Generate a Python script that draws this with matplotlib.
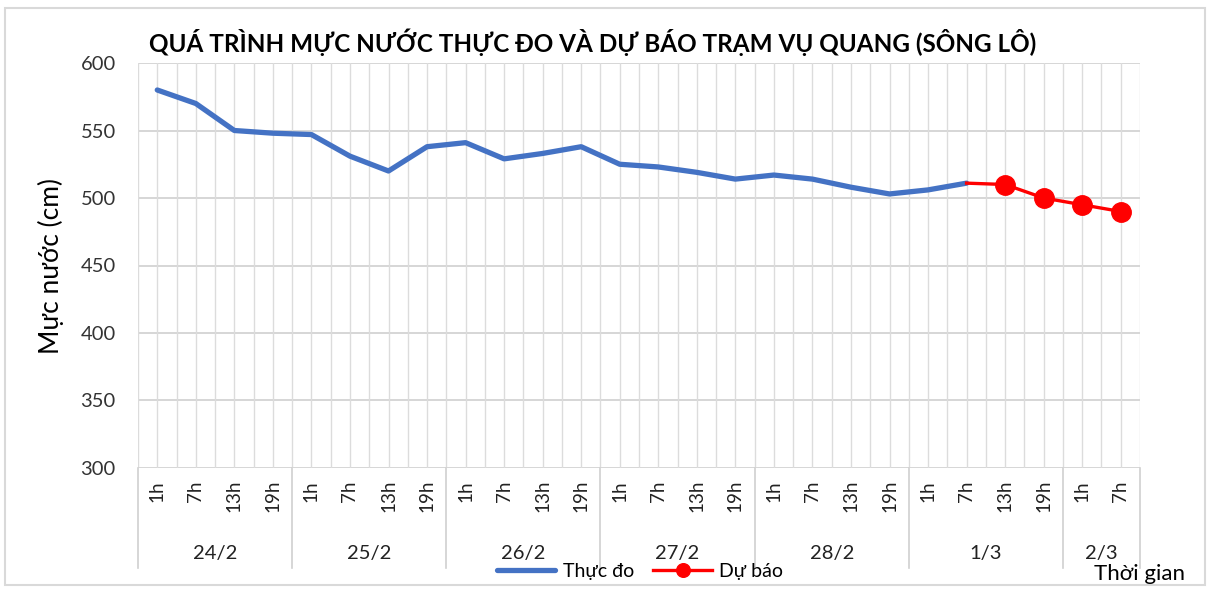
import numpy as np
import matplotlib
matplotlib.use("Agg")
import matplotlib.pyplot as plt
from matplotlib.transforms import blended_transform_factory

plt.rcParams['font.family'] = ['Lato', 'DejaVu Sans']

# data
hours = ['1h', '7h', '13h', '19h'] * 6 + ['1h', '7h']
days = ['24/2', '25/2', '26/2', '27/2', '28/2', '1/3', '2/3']
day_len = [4, 4, 4, 4, 4, 4, 2]
observed = [580, 570, 550, 548, 547, 531, 520, 538, 541, 529, 533, 538,
            525, 523, 519, 514, 517, 514, 508, 503, 506, 511]
forecast_x = [21, 22, 23, 24, 25]
forecast = [511, 510, 500, 495, 490]

W, H = 1212, 590
fig = plt.figure(figsize=(W / 100, H / 100), dpi=100)
L, R, T, B = 138, 1140, 63, 468
ax = fig.add_axes([L / W, 1 - B / H, (R - L) / W, (B - T) / H])

n = len(hours)
x = np.arange(len(observed))
ax.set_xlim(-0.5, n - 0.5)
ax.set_ylim(300, 600)
ax.set_yticks(np.arange(300, 601, 50))
ax.set_xticks([])
for s in ax.spines.values():
    s.set_visible(False)
ax.tick_params(axis='y', length=0, labelsize=14.5, pad=16, labelcolor='#333333')

# gridlines
for yv in np.arange(300, 601, 50):
    ax.axhline(yv, color='#d0d0d0', lw=1.2, zorder=0)
for xv in np.arange(-0.5, n, 0.5):
    ax.axvline(xv, color='#dcdcdc', lw=1, zorder=0)

ax.plot(x, observed, color='#4472C4', lw=3.8, solid_capstyle='round',
        label='Thực đo', zorder=3)
ax.plot(forecast_x, forecast, color='#FF0000', lw=2.4, marker='o', ms=14,
        markevery=[1, 2, 3, 4], label='Dự báo', zorder=4)

# category axis: hours and days
tr = blended_transform_factory(ax.transData, ax.transAxes)
axh = B - T
for i, h in enumerate(hours):
    ax.text(i, -12 / axh, h, transform=tr, rotation=90, ha='center', va='top',
            fontsize=13.5, color='#222222')
edges = np.concatenate([[0], np.cumsum(day_len)]) - 0.5
for k, d in enumerate(days):
    ax.text((edges[k] + edges[k + 1]) / 2, -85 / axh, d, transform=tr,
            ha='center', va='center', fontsize=14.5, color='#222222')
for e in edges:
    ax.plot([e, e], [0, -100 / axh], transform=tr, color='#d0d0d0', lw=1.2,
            clip_on=False)

ax.set_ylabel('Mực nước (cm)', fontsize=19, labelpad=12)
fig.text(593 / W, 1 - 42 / H, 'QUÁ TRÌNH MỰC NƯỚC THỰC ĐO VÀ DỰ BÁO TRẠM VỤ QUANG (SÔNG LÔ)',
         ha='center', va='center', fontsize=17.5, fontweight='bold')
fig.text(1140 / W, 1 - 574 / H, 'Thời gian', ha='center', va='center', fontsize=16)

leg = ax.legend(loc='center', bbox_to_anchor=(640 / W, 1 - 571 / H),
                bbox_transform=fig.transFigure, ncol=2, frameon=False,
                fontsize=14, handlelength=3, columnspacing=1.0,
                handletextpad=0.4, markerscale=0.7)

# outer frame
fig.patches.append(plt.Rectangle((5 / W, 1 - 585 / H), 1200 / W, 577 / H,
                                 transform=fig.transFigure, fill=False,
                                 edgecolor='#d9d9d9', lw=1.5))

fig.savefig('out.png', dpi=100)
